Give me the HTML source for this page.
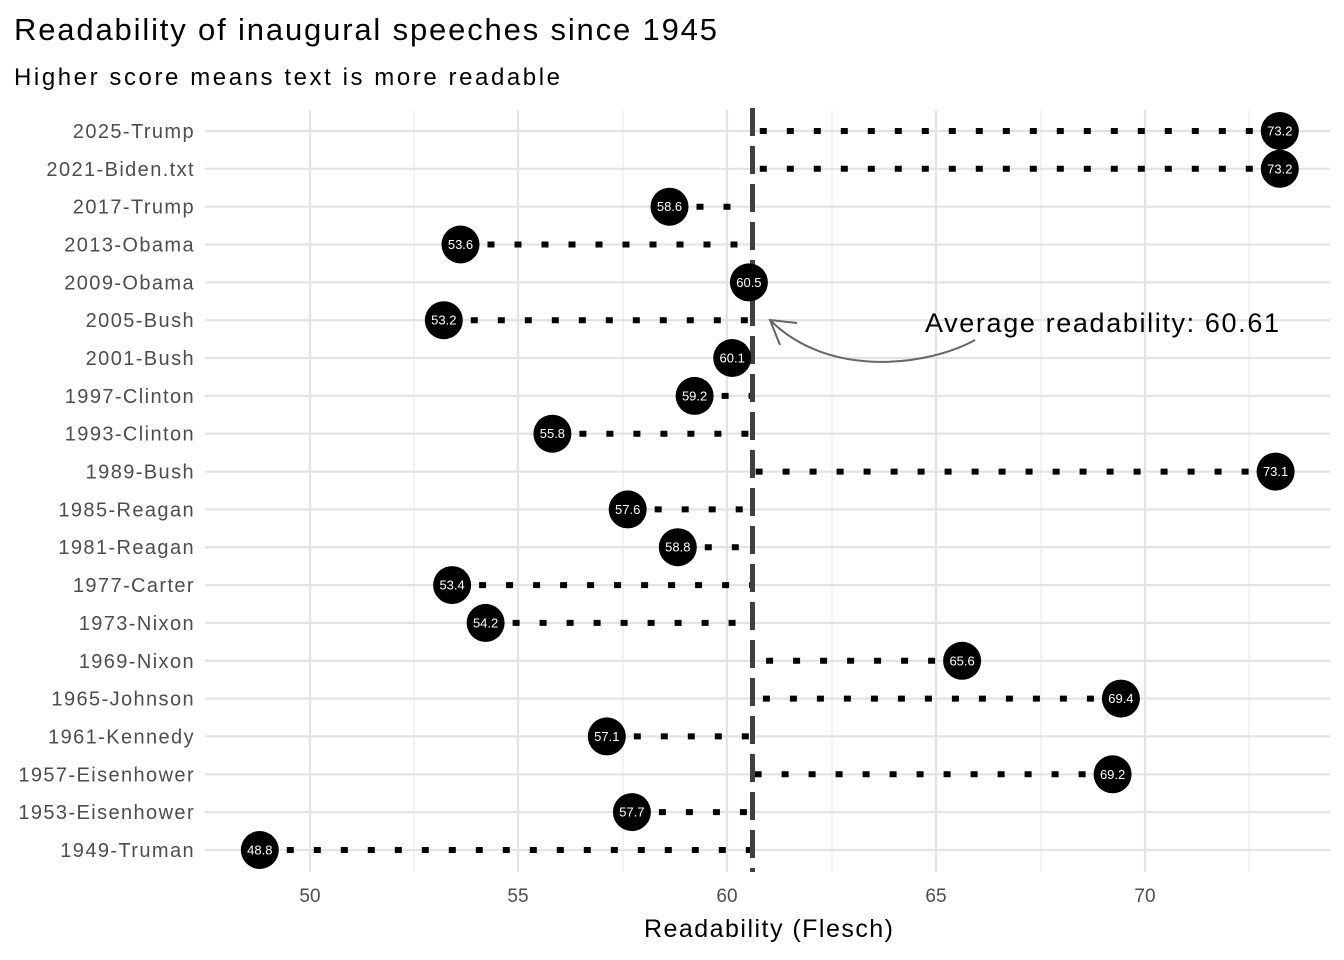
<!DOCTYPE html>
<html><head><meta charset="utf-8"><style>
html,body{margin:0;padding:0;background:#fff;}
svg{display:block;font-family:"Liberation Sans",sans-serif;}
</style></head><body>
<svg width="1344" height="960" viewBox="0 0 1344 960" xmlns="http://www.w3.org/2000/svg">
<rect width="1344" height="960" fill="#fff"/>
<text x="14" y="40" font-size="31" fill="#000" textLength="703" lengthAdjust="spacing">Readability of inaugural speeches since 1945</text>
<text x="14" y="85" font-size="24" fill="#000" textLength="546" lengthAdjust="spacing">Higher score means text is more readable</text>
<g stroke="#ebebeb" stroke-width="1.2">
<line x1="414" y1="110" x2="414" y2="872"/><line x1="623" y1="110" x2="623" y2="872"/><line x1="832" y1="110" x2="832" y2="872"/><line x1="1041" y1="110" x2="1041" y2="872"/><line x1="1249" y1="110" x2="1249" y2="872"/>
</g>
<g stroke="#e3e3e3" stroke-width="2.2">
<line x1="310" y1="110" x2="310" y2="872"/><line x1="518" y1="110" x2="518" y2="872"/><line x1="727" y1="110" x2="727" y2="872"/><line x1="936" y1="110" x2="936" y2="872"/><line x1="1145" y1="110" x2="1145" y2="872"/>
<line x1="205" y1="131" x2="1330" y2="131"/><line x1="205" y1="168.8" x2="1330" y2="168.8"/><line x1="205" y1="206.7" x2="1330" y2="206.7"/><line x1="205" y1="244.5" x2="1330" y2="244.5"/><line x1="205" y1="282.4" x2="1330" y2="282.4"/><line x1="205" y1="320.2" x2="1330" y2="320.2"/><line x1="205" y1="358" x2="1330" y2="358"/><line x1="205" y1="395.9" x2="1330" y2="395.9"/><line x1="205" y1="433.7" x2="1330" y2="433.7"/><line x1="205" y1="471.6" x2="1330" y2="471.6"/><line x1="205" y1="509.4" x2="1330" y2="509.4"/><line x1="205" y1="547.2" x2="1330" y2="547.2"/><line x1="205" y1="585.1" x2="1330" y2="585.1"/><line x1="205" y1="622.9" x2="1330" y2="622.9"/><line x1="205" y1="660.8" x2="1330" y2="660.8"/><line x1="205" y1="698.6" x2="1330" y2="698.6"/><line x1="205" y1="736.4" x2="1330" y2="736.4"/><line x1="205" y1="774.3" x2="1330" y2="774.3"/><line x1="205" y1="812.1" x2="1330" y2="812.1"/><line x1="205" y1="850" x2="1330" y2="850"/>
</g>
<g stroke="#000" stroke-width="6" stroke-dasharray="7 20">
<line x1="1279.8" y1="131" x2="753.5" y2="131"/><line x1="1279.8" y1="168.8" x2="753.5" y2="168.8"/><line x1="669.5" y1="206.7" x2="753.5" y2="206.7"/><line x1="460.5" y1="244.5" x2="753.5" y2="244.5"/><line x1="443.8" y1="320.2" x2="753.5" y2="320.2"/><line x1="732.2" y1="358" x2="753.5" y2="358"/><line x1="694.6" y1="395.9" x2="753.5" y2="395.9"/><line x1="552.4" y1="433.7" x2="753.5" y2="433.7"/><line x1="1275.6" y1="471.6" x2="753.5" y2="471.6"/><line x1="627.7" y1="509.4" x2="753.5" y2="509.4"/><line x1="677.8" y1="547.2" x2="753.5" y2="547.2"/><line x1="452.1" y1="585.1" x2="753.5" y2="585.1"/><line x1="485.6" y1="622.9" x2="753.5" y2="622.9"/><line x1="962.1" y1="660.8" x2="753.5" y2="660.8"/><line x1="1120.9" y1="698.6" x2="753.5" y2="698.6"/><line x1="606.8" y1="736.4" x2="753.5" y2="736.4"/><line x1="1112.6" y1="774.3" x2="753.5" y2="774.3"/><line x1="631.9" y1="812.1" x2="753.5" y2="812.1"/><line x1="259.8" y1="850" x2="753.5" y2="850"/>
</g>
<line x1="752.5" y1="108" x2="752.5" y2="872" stroke="#404040" stroke-width="5" stroke-dasharray="28 10"/>
<g fill="#000">
<circle cx="1279.8" cy="131" r="19"/><circle cx="1279.8" cy="168.8" r="19"/><circle cx="669.5" cy="206.7" r="19"/><circle cx="460.5" cy="244.5" r="19"/><circle cx="748.9" cy="282.4" r="19"/><circle cx="443.8" cy="320.2" r="19"/><circle cx="732.2" cy="358" r="19"/><circle cx="694.6" cy="395.9" r="19"/><circle cx="552.4" cy="433.7" r="19"/><circle cx="1275.6" cy="471.6" r="19"/><circle cx="627.7" cy="509.4" r="19"/><circle cx="677.8" cy="547.2" r="19"/><circle cx="452.1" cy="585.1" r="19"/><circle cx="485.6" cy="622.9" r="19"/><circle cx="962.1" cy="660.8" r="19"/><circle cx="1120.9" cy="698.6" r="19"/><circle cx="606.8" cy="736.4" r="19"/><circle cx="1112.6" cy="774.3" r="19"/><circle cx="631.9" cy="812.1" r="19"/><circle cx="259.8" cy="850" r="19"/>
</g>
<g fill="#fff" font-size="13" text-anchor="middle" dominant-baseline="central">
<text x="1279.8" y="131">73.2</text><text x="1279.8" y="168.8">73.2</text><text x="669.5" y="206.7">58.6</text><text x="460.5" y="244.5">53.6</text><text x="748.9" y="282.4">60.5</text><text x="443.8" y="320.2">53.2</text><text x="732.2" y="358">60.1</text><text x="694.6" y="395.9">59.2</text><text x="552.4" y="433.7">55.8</text><text x="1275.6" y="471.6">73.1</text><text x="627.7" y="509.4">57.6</text><text x="677.8" y="547.2">58.8</text><text x="452.1" y="585.1">53.4</text><text x="485.6" y="622.9">54.2</text><text x="962.1" y="660.8">65.6</text><text x="1120.9" y="698.6">69.4</text><text x="606.8" y="736.4">57.1</text><text x="1112.6" y="774.3">69.2</text><text x="631.9" y="812.1">57.7</text><text x="259.8" y="850">48.8</text>
</g>
<g fill="#4d4d4d" font-size="20" text-anchor="end" dominant-baseline="central" letter-spacing="1.4">
<text x="195" y="132">2025-Trump</text><text x="195" y="169.8">2021-Biden.txt</text><text x="195" y="207.7">2017-Trump</text><text x="195" y="245.5">2013-Obama</text><text x="195" y="283.4">2009-Obama</text><text x="195" y="321.2">2005-Bush</text><text x="195" y="359">2001-Bush</text><text x="195" y="396.9">1997-Clinton</text><text x="195" y="434.7">1993-Clinton</text><text x="195" y="472.6">1989-Bush</text><text x="195" y="510.4">1985-Reagan</text><text x="195" y="548.2">1981-Reagan</text><text x="195" y="586.1">1977-Carter</text><text x="195" y="623.9">1973-Nixon</text><text x="195" y="661.8">1969-Nixon</text><text x="195" y="699.6">1965-Johnson</text><text x="195" y="737.4">1961-Kennedy</text><text x="195" y="775.3">1957-Eisenhower</text><text x="195" y="813.1">1953-Eisenhower</text><text x="195" y="851">1949-Truman</text>
</g>
<g fill="#4d4d4d" font-size="19" text-anchor="middle">
<text x="310" y="902">50</text><text x="518" y="902">55</text><text x="727" y="902">60</text><text x="936" y="902">65</text><text x="1145" y="902">70</text>
</g>
<text x="644" y="937" font-size="25" fill="#000" textLength="249" lengthAdjust="spacing">Readability (Flesch)</text>
<text x="925" y="332" font-size="27" fill="#000" textLength="354" lengthAdjust="spacing">Average readability: 60.61</text>
<path d="M975,340 C930,365 830,380 770,320" fill="none" stroke="#666" stroke-width="2"/>
<path d="M797,323 L770,320 L780,345" fill="none" stroke="#666" stroke-width="2"/>
</svg>
</body></html>
